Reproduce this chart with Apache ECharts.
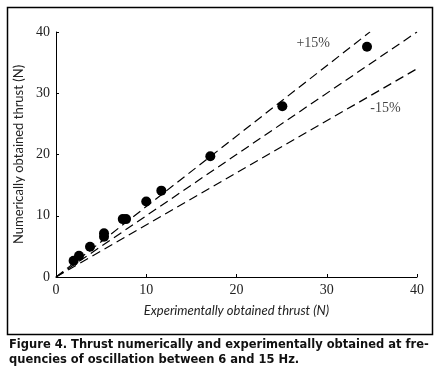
<!DOCTYPE html>
<html>
<head>
<meta charset="utf-8">
<script src="https://cdn.jsdelivr.net/npm/echarts@6/dist/echarts.min.js"></script>
<style>
  html, body { margin: 0; padding: 0; background: #fff; }
  #main { width: 436px; height: 375px; }
</style>
</head>
<body>
<div id="main"></div>
<script>
var chartDom = document.getElementById('main');
var myChart = echarts.init(chartDom);
var option;

// measured thrust (N) vs numerically obtained thrust (N)
var experimental = [1.95, 2.55, 3.77, 5.32, 5.32, 7.4, 7.76, 10.0, 11.67, 17.1, 25.08, 34.46];
var numerical = [2.66, 3.45, 4.95, 7.13, 6.58, 9.45, 9.45, 12.33, 14.1, 19.7, 27.87, 37.6];

// reference lines: y = x, y = 1.15x, y = 0.85x
var refX = [0, 40];
var refPlusX = [0, 34.8];
var ratioMid = 1;
var ratioPlus = 1.15;
var ratioMinus = 0.85;

var ticks = [0, 10, 20, 30, 40];
var labelPlus = '+15%';
var labelMinus = '-15%';

function lineData(xs, r) {
  return xs.map(function (x) { return [x, x * r]; });
}

var dashStyle = { color: '#000', width: 1.2, type: [9, 5] };

option = {
  backgroundColor: '#fff',
  animation: false,
  grid: { left: 56, right: 19, top: 32, bottom: 98 },
  xAxis: {
    type: 'value',
    min: ticks[0],
    max: ticks[ticks.length - 1],
    interval: 10,
    name: 'Experimentally obtained thrust (N)',
    nameLocation: 'middle',
    nameGap: 27,
    nameTextStyle: { fontFamily: 'Lato', fontStyle: 'italic', fontSize: 13, color: '#222' },
    axisLine: { lineStyle: { color: '#000', width: 1 } },
    axisTick: { inside: true, length: 3, lineStyle: { color: '#000' } },
    axisLabel: { fontFamily: 'Liberation Serif', fontSize: 14, color: '#222', margin: 6 },
    splitLine: { show: false }
  },
  yAxis: {
    type: 'value',
    min: ticks[0],
    max: ticks[ticks.length - 1],
    interval: 10,
    name: 'Numerically obtained thrust (N)',
    nameLocation: 'middle',
    nameGap: 28,
    nameTextStyle: { fontFamily: 'Lato', fontSize: 13, color: '#222' },
    axisLine: { show: true, lineStyle: { color: '#000', width: 1 } },
    axisTick: { show: true, inside: true, length: 3, lineStyle: { color: '#000' } },
    axisLabel: { fontFamily: 'Liberation Serif', fontSize: 14, color: '#222', margin: 6 },
    splitLine: { show: false }
  },
  graphic: [
    {
      type: 'rect',
      shape: { x: 7.5, y: 7.5, width: 425, height: 327 },
      style: { fill: 'none', stroke: '#000', lineWidth: 1.5 },
      z: 100
    },
    {
      type: 'text',
      left: 9,
      top: 338,
      style: {
        text: 'Figure 4. Thrust numerically and experimentally obtained at fre-\nquencies of oscillation between 6 and 15 Hz.',
        fontFamily: 'DejaVu Sans',
        fontWeight: 'bold',
        fontSize: 11.5,
        lineHeight: 15,
        fill: '#111'
      }
    }
  ],
  series: [
    {
      type: 'line',
      data: lineData(refPlusX, ratioPlus),
      symbol: 'none',
      lineStyle: dashStyle,
      silent: true
    },
    {
      type: 'line',
      data: lineData(refX, ratioMid),
      symbol: 'none',
      lineStyle: dashStyle,
      silent: true
    },
    {
      type: 'line',
      data: lineData(refX, ratioMinus),
      symbol: 'none',
      lineStyle: dashStyle,
      silent: true
    },
    {
      type: 'scatter',
      symbolSize: 0,
      silent: true,
      data: [
        { value: [28.5, 38.1], label: { formatter: labelPlus } },
        { value: [36.5, 27.5], label: { formatter: labelMinus } }
      ],
      label: {
        show: true,
        position: 'inside',
        fontFamily: 'Liberation Serif',
        fontSize: 14,
        color: '#111'
      }
    },
    {
      type: 'scatter',
      symbol: 'circle',
      symbolSize: 10,
      itemStyle: { color: '#000', opacity: 1 },
      data: experimental.map(function (x, i) { return [x, numerical[i]]; })
    }
  ]
};

option && myChart.setOption(option);
</script>
</body>
</html>
